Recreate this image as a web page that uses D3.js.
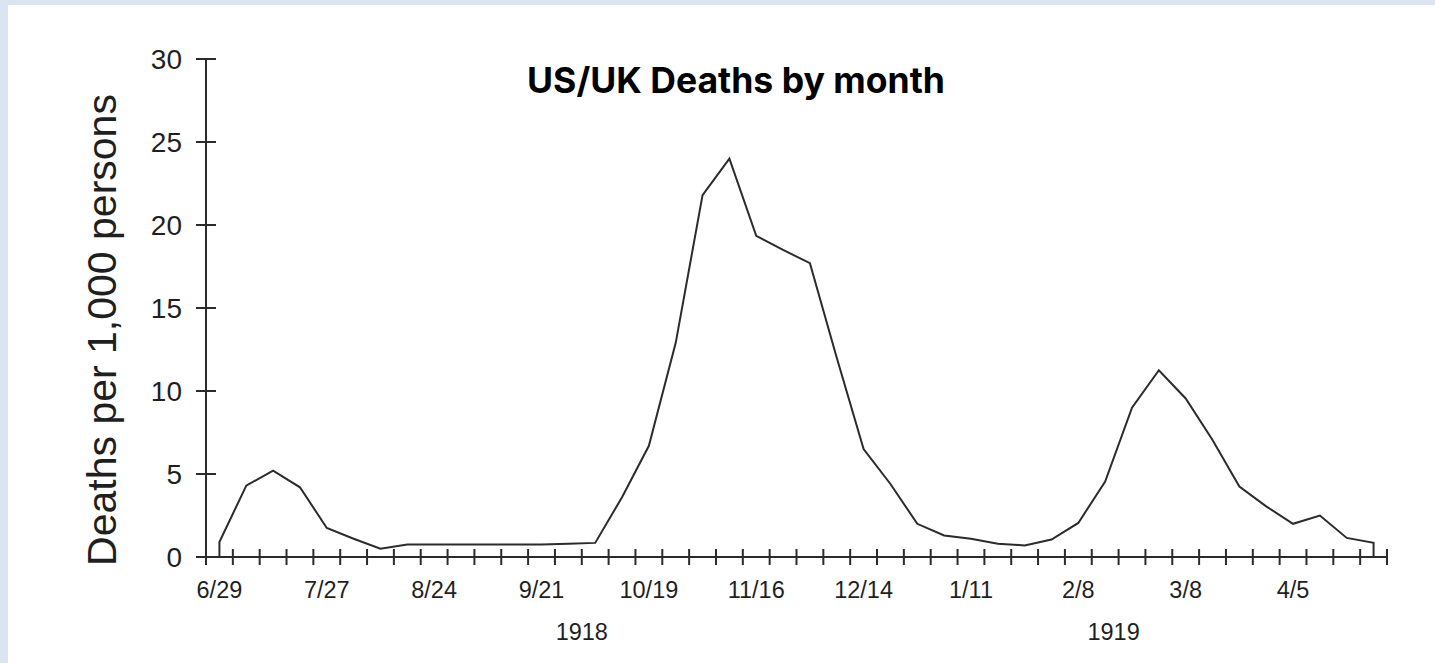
<!DOCTYPE html>
<html>
<head>
<meta charset="utf-8">
<script src="https://cdn.jsdelivr.net/npm/d3@7"></script>
<style>
  html, body { margin: 0; padding: 0; background: #dbe5f1; }
  svg { display: block; }
</style>
</head>
<body>
<svg id="chart" width="1435" height="663"></svg>
<script>
// ---- data ----
const weeks = ["6/29","7/6","7/13","7/20","7/27","8/3","8/10","8/17","8/24","8/31",
  "9/7","9/14","9/21","9/28","10/5","10/12","10/19","10/26","11/2","11/9",
  "11/16","11/23","11/30","12/7","12/14","12/21","12/28","1/4","1/11","1/18",
  "1/25","2/1","2/8","2/15","2/22","3/1","3/8","3/15","3/22","3/29",
  "4/5","4/12","4/19","4/26"];
const deaths = [0.9,4.3,5.2,4.2,1.75,1.1,0.5,0.75,0.75,0.75,
  0.75,0.75,0.75,0.8,0.85,3.6,6.7,12.9,21.8,24.0,
  19.35,18.5,17.7,12.0,6.5,4.4,2.0,1.3,1.1,0.8,
  0.7,1.05,2.05,4.55,9.0,11.25,9.55,7.05,4.25,3.05,
  2.0,2.5,1.15,0.85];
const xTickLabels = ["6/29","7/27","8/24","9/21","10/19","11/16","12/14","1/11","2/8","3/8","4/5"];
const yTicks = [0,5,10,15,20,25,30];
const yearLabels = ["1918","1919"];
const yearAnchors = ["10/5","2/22"];
const title = "US/UK Deaths by month";
const yTitle = "Deaths per 1,000 persons";

// ---- layout ----
const svg = d3.select("#chart");
svg.append("rect").attr("x",0).attr("y",0).attr("width",1435).attr("height",663).attr("fill","#dbe5f1");
svg.append("rect").attr("x",8).attr("y",5).attr("width",1427).attr("height",658).attr("fill","#ffffff");

const x = d3.scaleBand().domain(weeks).range([206, 1387]).paddingInner(0).paddingOuter(0);
const y = d3.scaleLinear().domain([0,30]).range([557, 59]);
const ink = "#2b2b2b";
const textInk = "#1f1f1f";

// y axis
const gy = svg.append("g").attr("transform","translate(206,0)");
gy.append("line").attr("x1",0).attr("x2",0).attr("y1",y(30)).attr("y2",565)
  .attr("stroke",ink).attr("stroke-width",2);
gy.selectAll("line.t").data(yTicks).join("line").attr("class","t")
  .attr("x1",-10).attr("x2",10).attr("y1",d=>y(d)).attr("y2",d=>y(d))
  .attr("stroke",ink).attr("stroke-width",2);
gy.selectAll("text").data(yTicks).join("text")
  .attr("x",-24).attr("y",d=>y(d)).attr("dy","0.36em")
  .attr("text-anchor","end")
  .attr("font-family","Liberation Sans, Arial, sans-serif")
  .attr("font-size",28).attr("fill",textInk)
  .text(d=>d);

// x axis
const boundaries = weeks.map(w => x(w)).concat([x(weeks[weeks.length-1]) + x.bandwidth()]);
const gx = svg.append("g");
gx.append("line").attr("x1",196).attr("x2",boundaries[boundaries.length-1])
  .attr("y1",y(0)).attr("y2",y(0)).attr("stroke",ink).attr("stroke-width",2);
gx.selectAll("line.t").data(boundaries.slice(1)).join("line").attr("class","t")
  .attr("x1",d=>d).attr("x2",d=>d).attr("y1",y(0)-8).attr("y2",y(0)+8)
  .attr("stroke",ink).attr("stroke-width",2);
gx.selectAll("text.tl").data(xTickLabels).join("text").attr("class","tl")
  .attr("x",d=>x(d)+x.bandwidth()/2).attr("y",598)
  .attr("text-anchor","middle")
  .attr("font-family","Liberation Sans, Arial, sans-serif")
  .attr("font-size",23.5).attr("fill",textInk)
  .text(d=>d);
const yearDx = [0,-5];
gx.selectAll("text.yr").data(yearLabels).join("text").attr("class","yr")
  .attr("x",(d,i)=>x(yearAnchors[i]) + yearDx[i]).attr("y",640)
  .attr("text-anchor","middle")
  .attr("font-family","Liberation Sans, Arial, sans-serif")
  .attr("font-size",23.5).attr("fill",textInk)
  .text(d=>d);

// y title
svg.append("text")
  .attr("transform","translate(116,330) rotate(-90)")
  .attr("text-anchor","middle")
  .attr("font-family","Liberation Sans, Arial, sans-serif")
  .attr("font-size",41).attr("fill",textInk)
  .text(yTitle);

// line
const pts = [{w:weeks[0], v:0}].concat(weeks.map((w,i)=>({w, v:deaths[i]})), [{w:weeks[weeks.length-1], v:0}]);
const line = d3.line().x(d=>x(d.w)+x.bandwidth()/2).y(d=>y(d.v));
svg.append("path").datum(pts).attr("d",line)
  .attr("fill","none").attr("stroke",ink).attr("stroke-width",2).attr("stroke-linejoin","miter");

// title
const t = svg.append("text").attr("x",736).attr("y",93)
  .attr("text-anchor","middle")
  .attr("font-family","Inter, Noto Sans, sans-serif")
  .attr("font-weight",700).attr("font-size",30).attr("fill","#000")
  .text(title);
const w = t.node().getComputedTextLength();
t.attr("font-size", 30 * 418 / w);
</script>
</body>
</html>
